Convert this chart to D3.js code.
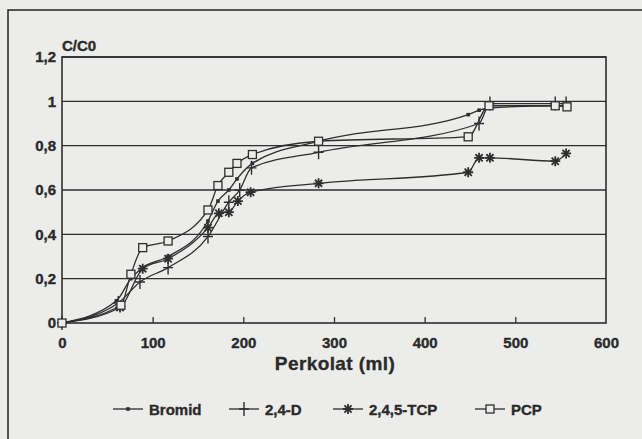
<!DOCTYPE html>
<html>
<head>
<meta charset="utf-8">
<script src="https://cdn.jsdelivr.net/npm/d3@7"></script>
<style>
  html, body { margin: 0; padding: 0; background: #ececea; }
  svg { display: block; }
  text { font-family: "Liberation Sans", Arial, sans-serif; font-weight: bold; fill: #2a2a2a; stroke: #2a2a2a; stroke-width: 0.35; }
</style>
</head>
<body>
<svg id="chart" width="642" height="439"></svg>
<script>
// --- Data ---
const seriesNames = ['Bromid', '2,4-D', '2,4,5-TCP', 'PCP'];
const markerTypes = ['dot', 'plus', 'star', 'square'];

const bromid = [[0, 0], [60, 0.1], [76, 0.2], [89, 0.25], [117, 0.3], [161, 0.46], [172, 0.55], [184, 0.6],
    [193, 0.65], [210, 0.72], [283, 0.82], [448, 0.94], [460, 0.96], [471, 0.97], [544, 0.98], [557, 0.98]];
const d24 = [[0, 0], [62, 0.09], [86, 0.185], [117, 0.25], [161, 0.39], [184, 0.545], [196, 0.6], [209, 0.7],
    [283, 0.77], [460, 0.9], [472, 0.99], [544, 0.99], [556, 0.99]];
const tcp245 = [[0, 0], [64, 0.07], [89, 0.245], [117, 0.29], [161, 0.43], [173, 0.495], [184, 0.5], [194, 0.55],
    [208, 0.59], [283, 0.63], [448, 0.68], [460, 0.745], [472, 0.745], [544, 0.73], [556, 0.765]];
const pcp = [[0, 0], [65, 0.08], [76, 0.22], [89, 0.34], [117, 0.37], [161, 0.51], [172, 0.62], [184, 0.68],
    [193, 0.72], [210, 0.76], [283, 0.82], [448, 0.84], [471, 0.98], [544, 0.98], [557, 0.975]];
const allSeries = [bromid, d24, tcp245, pcp];

const xTicks = [0, 100, 200, 300, 400, 500, 600];
const yTicks = [0, 0.2, 0.4, 0.6, 0.8, 1, 1.2];
const yTickLabels = ['0', '0,2', '0,4', '0,6', '0,8', '1', '1,2'];

// --- Layout ---
const ink = '#2e2e2e';
const bg = '#ececea';
const svg = d3.select('#chart');
const margin = { left: 62, right: 36, top: 57, bottom: 116 };
const W = 642, H = 439;

const x = d3.scaleLinear().domain([0, 600]).range([margin.left, W - margin.right]);
const y = d3.scaleLinear().domain([0, 1.2]).range([H - margin.bottom, margin.top]);

// outer frame (runs off the picture to the right and bottom)
svg.append('rect')
    .attr('x', 8).attr('y', 10).attr('width', 700).attr('height', 500)
    .attr('fill', 'none').attr('stroke', ink).attr('stroke-width', 1.6);

// gridlines
svg.append('g')
    .selectAll('line')
    .data(yTicks.slice(1))
    .join('line')
    .attr('x1', x(0)).attr('x2', x(600))
    .attr('y1', d => y(d)).attr('y2', d => y(d))
    .attr('stroke', ink).attr('stroke-width', 1.4);

// plot frame
svg.append('rect')
    .attr('x', x(0)).attr('y', y(1.2))
    .attr('width', x(600) - x(0)).attr('height', y(0) - y(1.2))
    .attr('fill', 'none').attr('stroke', ink).attr('stroke-width', 1.6);

const fontCss = '"Liberation Sans", Arial, sans-serif';

// x axis ticks (inside, upward) + labels
const xAxis = svg.append('g')
    .attr('transform', `translate(0,${y(0)})`)
    .call(d3.axisBottom(x).tickValues(xTicks).tickSize(-6).tickPadding(14).tickFormat(d3.format('d')));
xAxis.select('.domain').remove();
xAxis.selectAll('.tick line').attr('stroke', ink).attr('stroke-width', 1.3)
    .filter(d => d === 0 || d === 600).remove();
xAxis.selectAll('text').attr('font-size', 15).attr('fill', ink)
    .style('font-family', fontCss).style('font-weight', 'bold');

// y axis labels
const yAxis = svg.append('g')
    .attr('transform', `translate(${x(0)},0)`)
    .call(d3.axisLeft(y).tickValues(yTicks).tickSize(0).tickPadding(6).tickFormat((d, i) => yTickLabels[i]));
yAxis.select('.domain').remove();
yAxis.selectAll('text').attr('font-size', 15).attr('fill', ink)
    .style('font-family', fontCss).style('font-weight', 'bold');

svg.append('text').attr('x', x(0)).attr('y', 51).attr('font-size', 15).text('C/C0');
svg.append('text').attr('x', 335).attr('y', 370).attr('text-anchor', 'middle')
    .attr('font-size', 19).attr('letter-spacing', 0.4).text('Perkolat (ml)');

// --- Markers ---
function drawMarker(g, type) {
    if (type === 'dot') {
        g.append('rect').attr('x', -1.8).attr('y', -1.8).attr('width', 3.6).attr('height', 3.6).attr('fill', ink);
    } else if (type === 'plus') {
        g.append('path').attr('d', 'M-5,0H5M0,-7V7').attr('stroke', ink).attr('stroke-width', 1.4).attr('fill', 'none');
    } else if (type === 'star') {
        g.append('path').attr('d', 'M-5,0H5M0,-5V5M-3.6,-3.6L3.6,3.6M-3.6,3.6L3.6,-3.6')
            .attr('stroke', ink).attr('stroke-width', 1.8).attr('fill', 'none');
    } else {
        g.append('rect').attr('x', -4).attr('y', -4).attr('width', 8).attr('height', 8)
            .attr('fill', bg).attr('stroke', ink).attr('stroke-width', 1.3);
    }
}

const line = d3.line()
    .x(d => x(d[0])).y(d => y(d[1]))
    .curve(d3.curveMonotoneX);

allSeries.forEach(data => {
    svg.append('path')
        .datum(data)
        .attr('d', line)
        .attr('fill', 'none').attr('stroke', ink).attr('stroke-width', 1.3);
});

allSeries.forEach((data, i) => {
    svg.append('g')
        .selectAll('g')
        .data(data)
        .join('g')
        .attr('transform', d => `translate(${x(d[0])},${y(d[1])})`)
        .each(function () { drawMarker(d3.select(this), markerTypes[i]); });
});

// --- Legend ---
const legendX = [113, 229, 333, 475];
const legendY = 409;
const legend = svg.append('g');
seriesNames.forEach((name, i) => {
    const lg = legend.append('g').attr('transform', `translate(${legendX[i]},${legendY})`);
    lg.append('line').attr('x1', 0).attr('x2', 30).attr('y1', 0).attr('y2', 0)
        .attr('stroke', ink).attr('stroke-width', 1.3);
    drawMarker(lg.append('g').attr('transform', 'translate(15,0)'), markerTypes[i]);
    lg.append('text').attr('x', 36).attr('y', 5.5).attr('font-size', 15).text(name);
});
</script>
</body>
</html>
